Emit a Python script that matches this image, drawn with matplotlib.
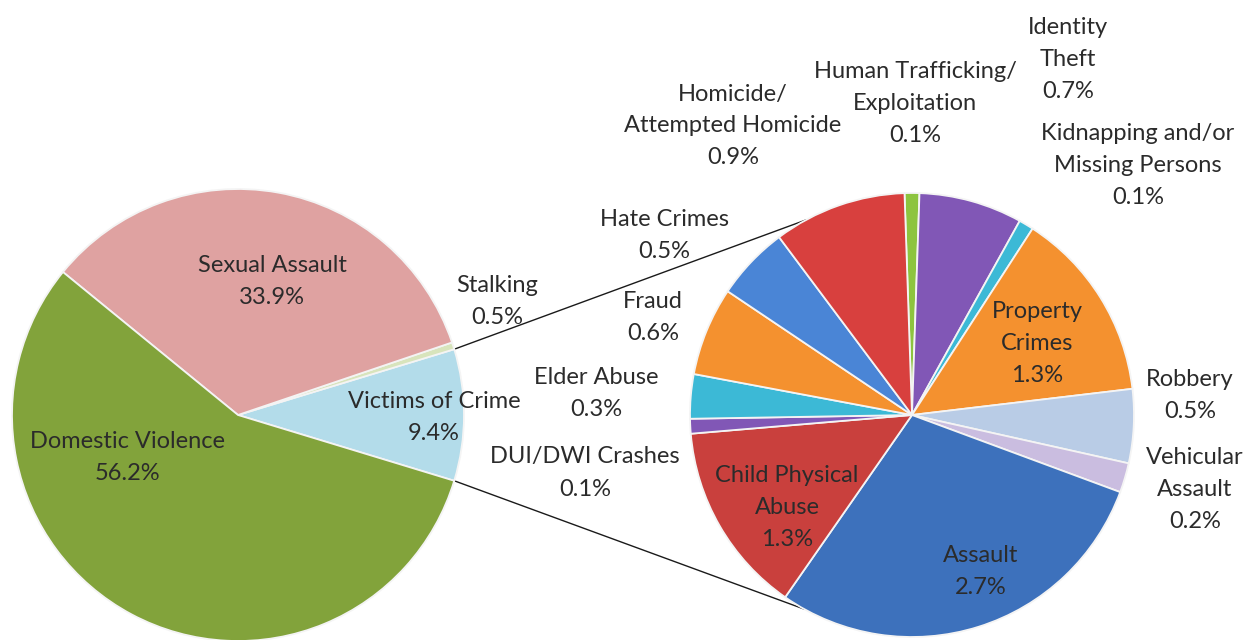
import numpy as np
import matplotlib.pyplot as plt

plt.rcParams['font.family'] = ['Lato', 'DejaVu Sans']

# main pie
main_labels = ['Victims of Crime', 'Stalking', 'Sexual Assault', 'Domestic Violence']
main_values = [9.4, 0.5, 33.9, 56.2]
main_colors = ['#b3dcea', '#d8e4bc', '#dfa2a1', '#82a33b']

# breakdown of victims of crime
sub_labels = ['Human Trafficking/\nExploitation', 'Identity\nTheft',
              'Kidnapping and/or\nMissing Persons', 'Property\nCrimes', 'Robbery',
              'Vehicular\nAssault', 'Assault', 'Child Physical\nAbuse',
              'DUI/DWI Crashes', 'Elder Abuse', 'Fraud', 'Hate Crimes',
              'Homicide/\nAttempted Homicide']
sub_values = [0.1, 0.7, 0.1, 1.3, 0.5, 0.2, 2.7, 1.3, 0.1, 0.3, 0.6, 0.5, 0.9]
sub_colors = ['#8dc43f', '#8157b6', '#3cb9d6', '#f4912f', '#b9cce6', '#cabde0',
              '#3d71bc', '#c9403d', '#8157b6', '#3cb9d6', '#f4912f', '#4a85d6',
              '#d8403e']

fig = plt.figure(figsize=(12.5, 6.4), dpi=100)
ax = fig.add_axes([0, 0, 1, 1])

c1, r1 = (238, 225), 226
c2, r2 = (912, 225), 222

start1 = -main_values[0] / 2 * 3.6
w1, _ = ax.pie(main_values, colors=main_colors, center=c1, radius=r1,
               startangle=start1, counterclock=True,
               wedgeprops=dict(edgecolor='#f4f4f4', linewidth=1.3))

start2 = 90 + sub_values[0] / sum(sub_values) * 180
w2, _ = ax.pie(sub_values, colors=sub_colors, center=c2, radius=r2,
               startangle=start2, counterclock=False,
               wedgeprops=dict(edgecolor='#f4f4f4', linewidth=1.3))
ax.set_xlim(0, 1250)
ax.set_ylim(0, 640)
ax.set_aspect('equal')
ax.axis('off')

# connector lines from the victims wedge to the second pie
for a1, a2 in [(w1[0].theta2, 118.5), (w1[0].theta1, -119)]:
    p1 = (c1[0] + r1 * np.cos(np.radians(a1)), c1[1] + r1 * np.sin(np.radians(a1)))
    p2 = (c2[0] + r2 * np.cos(np.radians(a2)), c2[1] + r2 * np.sin(np.radians(a2)))
    ax.plot([p1[0], p2[0]], [p1[1], p2[1]], color='#1a1a1a', lw=1, zorder=0)

tc = '#2b2b2b'
fs = 17
pitch = 32


def lab(x, y, name, val):
    # one text per line so the line pitch matches the original
    lines = name.split('\n') + [f'{val}%']
    y0 = y - pitch * (len(lines) - 1) / 2
    for i, s in enumerate(lines):
        ax.text(x, 640 - (y0 + i * pitch), s, ha='center', va='center',
                fontsize=fs, color=tc)


main_pos = [(434, 418), (497, 302), (272, 282), (128, 457)]
for (x, y), n, v in zip(main_pos, main_labels, main_values):
    lab(x, y, n, v)

sub_pos = [(915, 103), (1068, 60), (1138, 165), (1037, 344), (1190, 396),
           (1195, 489), (981, 572), (787, 507), (585, 473), (596, 393),
           (653, 318), (664, 235), (733, 126)]
for (x, y), n, v in zip(sub_pos, sub_labels, sub_values):
    lab(x, y, n, v)

fig.savefig('out.png', dpi=100)
